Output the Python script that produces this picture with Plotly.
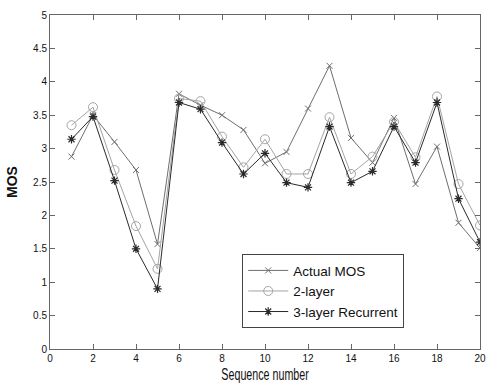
import plotly.graph_objects as go

seq = list(range(1, 21))
actual_mos = [2.88, 3.50, 3.10, 2.68, 1.57, 3.82, 3.65, 3.50, 3.28, 2.78,
              2.95, 3.60, 4.24, 3.16, 2.79, 3.46, 2.47, 3.03, 1.89, 1.51]
two_layer = [3.35, 3.62, 2.68, 1.84, 1.20, 3.75, 3.71, 3.18, 2.72, 3.14,
             2.62, 2.62, 3.47, 2.62, 2.88, 3.40, 2.87, 3.78, 2.47, 1.85]
three_layer = [3.14, 3.48, 2.52, 1.50, 0.90, 3.69, 3.59, 3.09, 2.62, 2.93,
               2.49, 2.42, 3.33, 2.49, 2.66, 3.33, 2.79, 3.69, 2.25, 1.60]

x_ticks = list(range(0, 21, 2))
y_ticks = [0, 0.5, 1, 1.5, 2, 2.5, 3, 3.5, 4, 4.5, 5]
y_tick_labels = ["0", "0.5", "1", "1.5", "2", "2.5", "3", "3.5", "4", "4.5", "5"]

c_actual = "#6e6e6e"
c_two = "#a4a4a4"
c_three = "#2a2a2a"

fig = go.Figure()
fig.add_trace(go.Scatter(
    x=seq, y=actual_mos, name="Actual MOS", mode="lines+markers",
    line=dict(color=c_actual, width=1),
    marker=dict(symbol="x-thin-open", size=6, color=c_actual,
                line=dict(color=c_actual, width=1))))
fig.add_trace(go.Scatter(
    x=seq, y=two_layer, name="2-layer", mode="lines+markers",
    line=dict(color=c_two, width=1),
    marker=dict(symbol="circle-open", size=9, color=c_two,
                line=dict(color=c_two, width=1))))
fig.add_trace(go.Scatter(
    x=seq, y=three_layer, name="3-layer Recurrent", mode="lines+markers",
    line=dict(color=c_three, width=1),
    marker=dict(symbol="asterisk-open", size=7, color=c_three,
                line=dict(color=c_three, width=1.2))))

axis_common = dict(
    showline=True, linecolor="#666666", linewidth=1, mirror="ticks",
    ticks="inside", ticklen=5, tickcolor="#666666", tickwidth=1,
    showgrid=False, zeroline=False,
    tickfont=dict(family="Liberation Sans, Arial, sans-serif", size=10, color="#111111"),
)

fig.update_layout(
    width=495, height=390,
    margin=dict(l=50, r=9, t=9, b=36),
    paper_bgcolor="white", plot_bgcolor="white",
    showlegend=True,
    legend=dict(
        x=0.447, y=0.284, xanchor="left", yanchor="top",
        bgcolor="white", bordercolor="#444444", borderwidth=1,
        font=dict(family="Liberation Sans, Arial, sans-serif", size=13.5, color="#111111"),
        tracegroupgap=0, itemwidth=40,
    ),
    xaxis=dict(range=[0, 20], tickvals=x_ticks,
               title=dict(text="Sequence number", standoff=5,
                          font=dict(family="Liberation Sans, Arial, sans-serif",
                                    size=17, color="#111111")),
               **axis_common),
    yaxis=dict(range=[0, 5], tickvals=y_ticks, ticktext=y_tick_labels,
               title=dict(text="MOS", standoff=12,
                          font=dict(family="Liberation Sans, Arial, sans-serif",
                                    size=14, color="#111111", weight="bold")),
               **axis_common),
)

post_js = """
var t = document.querySelector('.xtitle');
if (t) {
  var b = t.getBBox();
  var cx = b.x + b.width / 2;
  t.setAttribute('transform', 'translate(' + cx + ',0) scale(0.63,1) translate(' + (-cx) + ',0)');
}
"""

fig.write_html("out.html", post_script=post_js)
